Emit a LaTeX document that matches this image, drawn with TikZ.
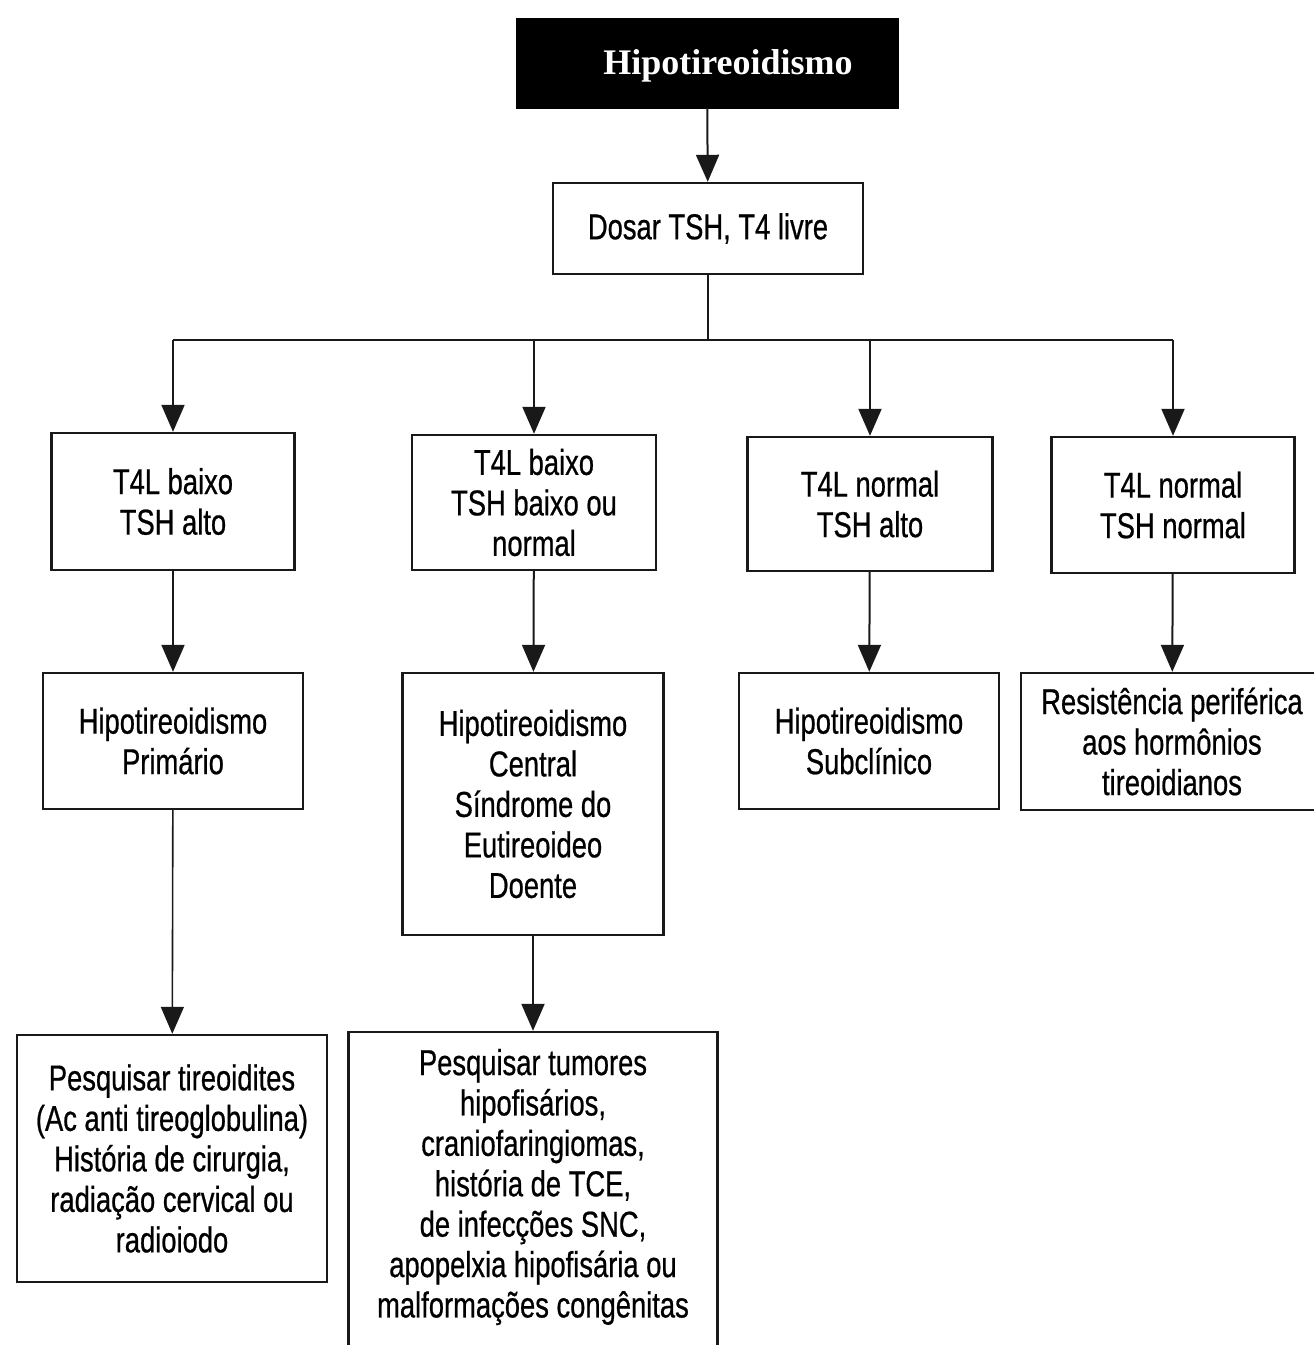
\documentclass[tikz,border=0pt]{standalone}
\usepackage{fontspec}
\setmainfont{Liberation Sans}[FakeStretch=0.76,FakeBold=0.6]
\newfontfamily\titlefont{Liberation Serif}
\usetikzlibrary{arrows.meta}
\begin{document}
\begin{tikzpicture}[x=1pt,y=-1pt,
  box/.style={draw=black!90, line width=2.4pt, fill=white, align=center,
    inner sep=0pt, font=\fontsize{36}{40.5}\selectfont},
  titlebox/.style={fill=black, draw=black, inner sep=0pt},
  link/.style={draw=black!90, line width=2pt},
  arr/.style={link, -{Triangle[length=27pt,width=23pt]}}]
\useasboundingbox (0,0) rectangle (1314,1345);

% heading
\node[titlebox, minimum width=382pt, minimum height=90pt] (top) at (707,63) {};
\node[text=white, inner sep=0pt, font=\titlefont\bfseries\fontsize{36}{40}\selectfont]
  (toptext) at (728,66) {Hipotireoidismo};

% first test
\node[box, minimum width=310pt, minimum height=91pt] (dosar) at (708,228.5) {Dosar TSH, T4 livre};

% results of the test
\node[box, minimum width=243pt, minimum height=137pt] (b1) at (173,501.5) {T4L baixo\\TSH alto};
\node[box, minimum width=244pt, minimum height=135pt] (b2) at (534,502.5) {T4L baixo\\TSH baixo ou\\normal};
\node[box, minimum width=245pt, minimum height=134pt] (b3) at (870,504) {T4L normal\\TSH alto};
\node[box, minimum width=243pt, minimum height=136pt] (b4) at (1173,505) {T4L normal\\TSH normal};

% diagnoses
\node[box, minimum width=260pt, minimum height=136pt] (c1) at (173,741) {Hipotireoidismo\\Primário};
\node[box, minimum width=261pt, minimum height=262pt] (c2) at (533,804) {Hipotireoidismo\\Central\\Síndrome do\\Eutireoideo\\Doente};
\node[box, minimum width=260pt, minimum height=136pt] (c3) at (869,741) {Hipotireoidismo\\Subclínico};
\node[box, minimum width=302pt, minimum height=137pt] (c4) at (1172,741.5) {Resistência periférica\\aos hormônios\\tireoidianos};

% further investigation
\node[box, minimum width=310pt, minimum height=247pt] (d1) at (172,1158.5)
  {Pesquisar tireoidites\\(Ac anti tireoglobulina)\\História de cirurgia,\\radiação cervical ou\\radioiodo};
\node[box, minimum width=369pt, minimum height=330pt] (d2) at (533,1197) {};
\node[align=center, inner sep=0pt, font=\fontsize{36}{40.4}\selectfont] (d2text) at (533,1187)
  {Pesquisar tumores\\hipofisários,\\craniofaringiomas,\\história de TCE,\\de infecções SNC,\\apopelxia hipofisária ou\\malformações congênitas};

% connectors
\draw[arr] (top) -- (dosar);
\coordinate (split) at (708,340);
\coordinate (bl) at (173,340);
\coordinate (br) at (1173,340);
\draw[link] (dosar.south) -- (split);
\draw[link] (bl) -- (br);
\draw[arr] (bl) -- (b1);
\draw[arr] (b2 |- split) -- (b2);
\draw[arr] (b3 |- split) -- (b3);
\draw[arr] (br) -- (b4);

\draw[arr] (b1) -- (c1);
\draw[arr] (b2) -- (c2);
\draw[arr] (b3) -- (c3);
\draw[arr] (b4) -- (c4);

\draw[arr, line width=1.6pt] (c1) -- (d1);
\draw[arr] (c2) -- (d2);
\end{tikzpicture}
\end{document}
